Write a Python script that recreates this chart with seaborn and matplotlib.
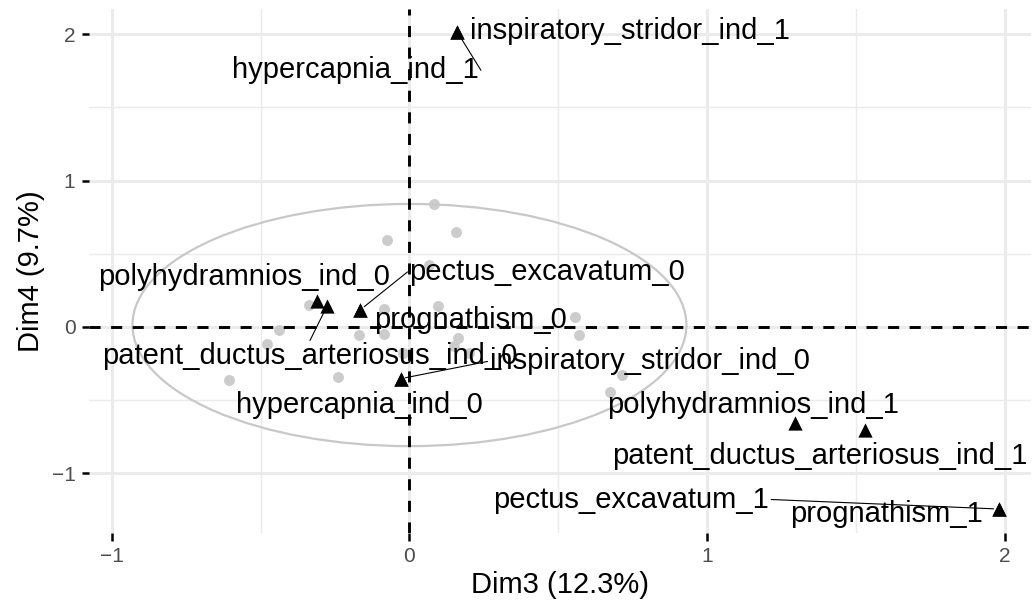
import matplotlib
matplotlib.use("Agg")
import matplotlib.pyplot as plt
import seaborn as sns
import pandas as pd
import numpy as np
from matplotlib.patches import Ellipse

# ---------------- data ----------------
ind_dim3 = [0.082, 0.155, -0.075, 0.065, -0.338, -0.086, 0.095, 0.557, -0.439, -0.170,
            -0.086, 0.568, 0.162, 0.149, -0.478, -0.020, 0.199, 0.714, -0.607, -0.240, 0.673]
ind_dim4 = [0.837, 0.646, 0.594, 0.423, 0.146, 0.121, 0.143, 0.070, -0.020, -0.055,
            -0.048, -0.055, -0.077, -0.130, -0.116, -0.180, -0.180, -0.328, -0.367, -0.346, -0.449]

var_names = ["inspiratory_stridor_ind_1", "hypercapnia_ind_1", "polyhydramnios_ind_0",
             "pectus_excavatum_0", "prognathism_0", "patent_ductus_arteriosus_ind_0",
             "inspiratory_stridor_ind_0", "hypercapnia_ind_0", "polyhydramnios_ind_1",
             "patent_ductus_arteriosus_ind_1", "pectus_excavatum_1", "prognathism_1"]
var_dim3 = [0.161, 0.161, -0.310, -0.165, -0.165, -0.276,
            -0.030, -0.030, 1.296, 1.528, 1.978, 1.978]
var_dim4 = [2.014, 2.014, 0.173, 0.116, 0.116, 0.145,
            -0.355, -0.355, -0.657, -0.708, -1.246, -1.246]

# repelled label positions (data units) and whether a leader segment is drawn
label_dim3 = [0.739, -0.181, -0.554, 0.463, 0.205, -0.334,
              0.806, -0.168, 1.153, 1.378, 0.745, 1.602]
label_dim4 = [2.020, 1.754, 0.341, 0.375, 0.048, -0.203,
              -0.237, -0.532, -0.532, -0.885, -1.181, -1.283]
label_segment = [False, True, False, True, False, True,
                 True, False, False, False, True, False]

ellipse_center = (0.0, 0.012)
ellipse_halfwidth = 0.930
ellipse_halfheight = 0.828

x_ticks = [-1, 0, 1, 2]
y_ticks = [-1, 0, 1, 2]
x_minor = [-0.5, 0.5, 1.5]
y_minor = [-0.5, 0.5, 1.5]
x_title = "Dim3 (12.3%)"
y_title = "Dim4 (9.7%)"

# ---------------- plotting ----------------
sns.set_theme(style="white")
plt.rcParams['font.family'] = ['Liberation Sans', 'DejaVu Sans']

W, H = 1033, 605
fig = plt.figure(figsize=(W / 100, H / 100), dpi=100)
ax = fig.add_axes([89 / W, 1 - 533 / H, (1031 - 89) / W, (533 - 9) / H])
ax.set_facecolor("white")

ax.set_xlim(-1.076, 2.087)
ax.set_ylim(-1.41, 2.173)
ax.set_xticks(x_ticks)
ax.set_yticks(y_ticks)
ax.set_xticks(x_minor, minor=True)
ax.set_yticks(y_minor, minor=True)
ax.set_xticklabels([f"{t:d}".replace("-", "\u2212") for t in x_ticks])
ax.set_yticklabels([f"{t:d}".replace("-", "\u2212") for t in y_ticks])
ax.grid(which="major", color="#EBEBEB", lw=2.1)
ax.grid(which="minor", color="#EBEBEB", lw=1.05)
ax.set_axisbelow(True)
for s in ax.spines.values():
    s.set_visible(False)
ax.tick_params(which="major", direction="out", length=5.4, width=1.8, color="black",
               labelcolor="#4D4D4D", labelsize=15, pad=4.4, bottom=True, left=True)
ax.tick_params(which="minor", length=0)

ind_df = pd.DataFrame({"Dim3": ind_dim3, "Dim4": ind_dim4})
sns.scatterplot(data=ind_df, x="Dim3", y="Dim4", color="#CCCCCC", s=62,
                linewidth=0, ax=ax, zorder=2)

ax.add_patch(Ellipse(ellipse_center, 2 * ellipse_halfwidth, 2 * ellipse_halfheight,
                     fill=False, edgecolor="#C8C8C8", lw=1.6, zorder=3))

ax.axhline(0, color="black", lw=2.1, ls=(0, (3.8, 3.6)), zorder=4)
ax.axvline(0, color="black", lw=2.1, ls=(0, (3.8, 3.6)), zorder=4)

var_df = pd.DataFrame({"Dim3": var_dim3, "Dim4": var_dim4, "name": var_names})
sns.scatterplot(data=var_df, x="Dim3", y="Dim4", color="black", marker="^", s=105,
                linewidth=0, ax=ax, zorder=6)

texts = []
for name, lx, ly in zip(var_names, label_dim3, label_dim4):
    texts.append(ax.text(lx, ly, name, ha="center", va="center", fontsize=21,
                         color="black", zorder=7))

ax.set_xlabel(x_title, fontsize=21, color="black", labelpad=4)
ax.set_ylabel(y_title, fontsize=21, color="black", labelpad=5)

# leader segments: from the nearest edge midpoint of the label box to the point
fig.canvas.draw()
renderer = fig.canvas.get_renderer()
inv = ax.transData.inverted()
for t, px, py, seg in zip(texts, var_dim3, var_dim4, label_segment):
    if not seg:
        continue
    bb = t.get_window_extent(renderer)
    pad = 2
    x0, x1, y0, y1 = bb.x0 - pad, bb.x1 + pad, bb.y0 - pad, bb.y1 + pad
    mx, my = (x0 + x1) / 2, (y0 + y1) / 2
    cands = [(x0, my), (x1, my), (mx, y0), (mx, y1)]
    ptx, pty = ax.transData.transform((px, py))
    cx, cy = min(cands, key=lambda c: np.hypot(c[0] - ptx, c[1] - pty))
    dx, dy = ptx - cx, pty - cy
    d = np.hypot(dx, dy)
    if d < 1:
        continue
    shrink = 5.0
    ex, ey = ptx - dx / d * shrink, pty - dy / d * shrink
    (a, b), (c, e) = inv.transform([(cx, cy), (ex, ey)])
    ax.plot([a, c], [b, e], color="black", lw=0.8, zorder=5)

fig.savefig("out.png", dpi=100)
